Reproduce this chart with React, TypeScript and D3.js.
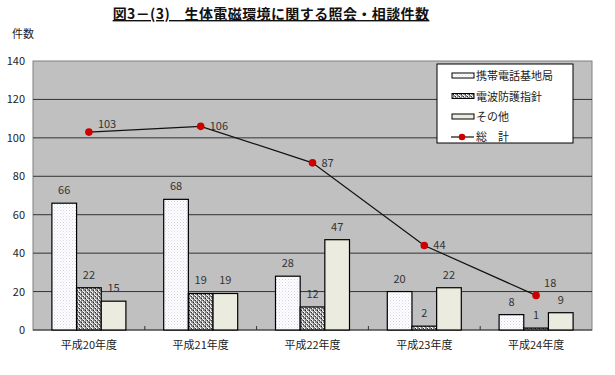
import React from "react";
import * as d3 from "d3";

const categories = ["平成20年度", "平成21年度", "平成22年度", "平成23年度", "平成24年度"];
const seriesNames = ["携帯電話基地局", "電波防護指針", "その他"];
const baseStation = [66, 68, 28, 20, 8];
const guideline = [22, 19, 12, 2, 1];
const others = [15, 19, 47, 22, 9];
const totalName = "総　計";
const totals = [103, 106, 87, 44, 18];
const yTicks = [0, 20, 40, 60, 80, 100, 120, 140];

const W = 615, H = 375;
const M = { left: 33, right: 592, top: 61, bottom: 330 };
const FONT = "'Noto Sans CJK JP', 'Noto Sans', sans-serif";

export default function App() {
  const x = d3.scaleBand<string>().domain(categories).range([M.left, M.right]);
  const y = d3.scaleLinear().domain([0, 140]).range([M.bottom, M.top]);
  const inner = d3.scaleBand<number>().domain([0, 1, 2]).range([0, 74]);
  const series = [baseStation, guideline, others];
  const fills = ["url(#patDots)", "url(#patChecker)", "#ecebdf"];
  const line = d3.line<number>()
    .x((_, i) => x(categories[i])! + x.bandwidth() / 2)
    .y((d) => y(d));

  return (
    <svg width={W} height={H} style={{ position: "absolute", left: 0, top: 0 }} fontFamily={FONT}>
      <defs>
        <pattern id="patDots" width="3" height="3" patternUnits="userSpaceOnUse">
          <rect width="3" height="3" fill="#ffffff" />
          <rect x="0" y="0" width="1" height="1" fill="#d4d4e8" />
          <rect x="1.5" y="1.5" width="1" height="1" fill="#e2e2f0" />
        </pattern>
        <pattern id="patChecker" width="4" height="4" patternUnits="userSpaceOnUse">
          <rect width="4" height="4" fill="#8a8a8a" />
          <rect x="0" y="0" width="1" height="1" fill="#ffffff" />
          <rect x="2" y="1" width="1" height="1" fill="#f0f0f0" />
          <rect x="1" y="2" width="1" height="1" fill="#222" />
          <rect x="3" y="3" width="1" height="1" fill="#ffffff" />
          <rect x="3" y="0" width="1" height="1" fill="#333" />
          <rect x="0" y="3" width="1" height="1" fill="#d0d0d0" />
          <rect x="2" y="2" width="1" height="1" fill="#fff" />
        </pattern>
      </defs>
      <rect width={W} height={H} fill="#fff" />
      <text x={271} y={19} textAnchor="middle" fontSize={14} fontWeight="bold" fill="#111"
        letterSpacing={0.4} textDecoration="underline">図3－(3)　生体電磁環境に関する照会・相談件数</text>
      <text x={12} y={38} fontSize={11} fill="#222">件数</text>

      <rect x={M.left} y={M.top} width={M.right - M.left} height={M.bottom - M.top}
        fill="#c0c0c0" stroke="#808080" strokeWidth={1} />
      {yTicks.map((t) => (
        <g key={t}>
          {t > 0 && t < 140 && (
            <line x1={M.left} x2={M.right} y1={y(t)} y2={y(t)} stroke="#333" strokeWidth={1} />
          )}
          <text x={25} y={y(t) + 4} textAnchor="end" fontSize={11} fill="#222">{t}</text>
        </g>
      ))}
      <line x1={M.left} x2={M.right} y1={M.bottom} y2={M.bottom} stroke="#333" strokeWidth={1} />
      {categories.slice(1).map((c) => (
        <line key={c} x1={x(c)!} x2={x(c)!} y1={M.bottom} y2={M.bottom - 4} stroke="#333" />
      ))}
      {categories.map((c) => (
        <text key={c} x={x(c)! + x.bandwidth() / 2} y={349} textAnchor="middle" fontSize={11} fill="#222">{c}</text>
      ))}

      {series.map((vals, si) =>
        vals.map((v, ci) => {
          const cx = x(categories[ci])! + x.bandwidth() / 2 - 37 + inner(si)!;
          return (
            <g key={`${si}-${ci}`}>
              <rect x={cx} y={y(v)} width={inner.bandwidth()} height={M.bottom - y(v)}
                fill={fills[si]} stroke="#000" strokeWidth={1.2} />
              <text x={cx + inner.bandwidth() / 2} y={y(v) - 9} textAnchor="middle" fontSize={11} fill="#333">{v}</text>
            </g>
          );
        })
      )}

      <path d={line(totals)!} fill="none" stroke="#111" strokeWidth={1.2} />
      {totals.map((v, i) => {
        const px = x(categories[i])! + x.bandwidth() / 2;
        const last = i === totals.length - 1;
        return (
          <g key={i}>
            <circle cx={px} cy={y(v)} r={3.8} fill="#cc0000" />
            <text x={last ? px + 8 : px + 9} y={last ? y(v) - 8 : y(v) + (i === 0 ? -4 : 4)}
              fontSize={11} fill="#333" textAnchor="start">{v}</text>
          </g>
        );
      })}

      <g>
        <rect x={437} y={64} width={136} height={79} fill="#fff" stroke="#000" strokeWidth={1} />
        {seriesNames.map((n, i) => (
          <g key={n}>
            <rect x={452} y={73 + i * 20.5} width={22} height={5} fill={fills[i]} stroke="#000" strokeWidth={1} />
            <text x={476} y={80 + i * 20.5} fontSize={11} fill="#222">{n}</text>
          </g>
        ))}
        <line x1={451} x2={474} y1={137} y2={137} stroke="#111" strokeWidth={1.2} />
        <circle cx={462} cy={137} r={3.3} fill="#cc0000" />
        <text x={476} y={141} fontSize={11} fill="#222">{totalName}</text>
      </g>
    </svg>
  );
}
